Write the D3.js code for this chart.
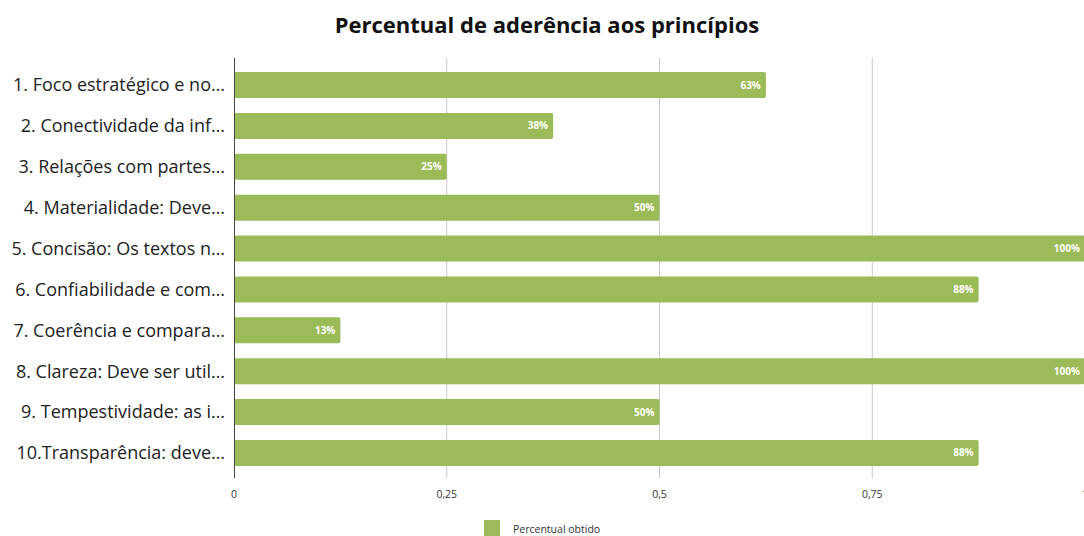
<!DOCTYPE html>
<html>
<head>
<meta charset="utf-8">
<script src="https://cdn.jsdelivr.net/npm/d3@7"></script>
<style>
  body { margin: 0; background: #fff; }
  svg { display: block; font-family: "Open Sans", Lato, sans-serif; }
</style>
</head>
<body>
<svg id="chart" width="1084" height="536"></svg>
<script>
// data
const categories = [
  "1. Foco estratégico e no…",
  "2. Conectividade da inf…",
  "3. Relações com partes…",
  "4. Materialidade: Deve…",
  "5. Concisão: Os textos n…",
  "6. Confiabilidade e com…",
  "7. Coerência e compara…",
  "8. Clareza: Deve ser util…",
  "9. Tempestividade: as i…",
  "10.Transparência: deve…"
];
const values = [0.625, 0.375, 0.25, 0.5, 1, 0.875, 0.125, 1, 0.5, 0.875];
const tickValues = [0, 0.25, 0.5, 0.75, 1];
const tickLabels = ["0", "0,25", "0,5", "0,75", "1"];
const seriesName = "Percentual obtido";

const svg = d3.select('#chart');
const color = '#9bbb59';
const m = {left: 234, top: 58, bottom: 478};

const x = d3.scaleLinear().domain([0, 1]).range([m.left, m.left + 851]);
const y = d3.scaleBand().domain(categories).range([72, 466]).paddingInner(0.364).paddingOuter(0);

// title
svg.append('text')
  .attr('x', 547).attr('y', 33)
  .attr('text-anchor', 'middle')
  .style('font-size', '22px').style('font-weight', 'bold').style('fill', '#111')
  .text('Percentual de aderência aos princípios');

// grid
svg.append('g').selectAll('line')
  .data(tickValues.slice(1))
  .join('line')
  .attr('x1', d => x(d)).attr('x2', d => x(d))
  .attr('y1', m.top).attr('y2', m.bottom)
  .attr('stroke', '#c8c8c8').attr('stroke-width', 1);

// bars
svg.append('g').selectAll('rect')
  .data(values)
  .join('rect')
  .attr('x', x(0))
  .attr('y', (d, i) => y(categories[i]))
  .attr('width', d => x(d) - x(0))
  .attr('height', y.bandwidth())
  .attr('rx', 2)
  .attr('fill', color);

// value labels
svg.append('g').selectAll('text')
  .data(values)
  .join('text')
  .attr('x', d => x(d) - 5)
  .attr('y', (d, i) => y(categories[i]) + y.bandwidth() / 2)
  .attr('dy', '0.35em')
  .attr('text-anchor', 'end')
  .style('font-size', '10px').style('font-weight', 'bold').style('fill', '#fff')
  .text(d => Math.round(d * 100) + '%');

// y axis line
svg.append('line')
  .attr('x1', m.left + 0.5).attr('x2', m.left + 0.5)
  .attr('y1', m.top).attr('y2', m.bottom)
  .attr('stroke', '#444').attr('stroke-width', 1);

// category labels
svg.append('g').selectAll('text')
  .data(categories)
  .join('text')
  .attr('x', 225)
  .attr('y', d => y(d) + y.bandwidth() / 2)
  .attr('dy', '0.35em')
  .attr('text-anchor', 'end')
  .style('font-size', '18px').style('fill', '#222')
  .text(d => d);

// x tick labels
svg.append('g').selectAll('text')
  .data(tickValues)
  .join('text')
  .attr('x', d => x(d))
  .attr('y', 498)
  .attr('text-anchor', 'middle')
  .style('font-size', '10.5px').style('fill', '#333')
  .text((d, i) => tickLabels[i]);

// legend
const lg = svg.append('g').attr('transform', 'translate(484,520)');
lg.append('rect').attr('width', 16).attr('height', 16).attr('rx', 1).attr('fill', color);
lg.append('text').attr('x', 29).attr('y', 13)
  .style('font-size', '10.5px').style('fill', '#333')
  .text(seriesName);
</script>
</body>
</html>
